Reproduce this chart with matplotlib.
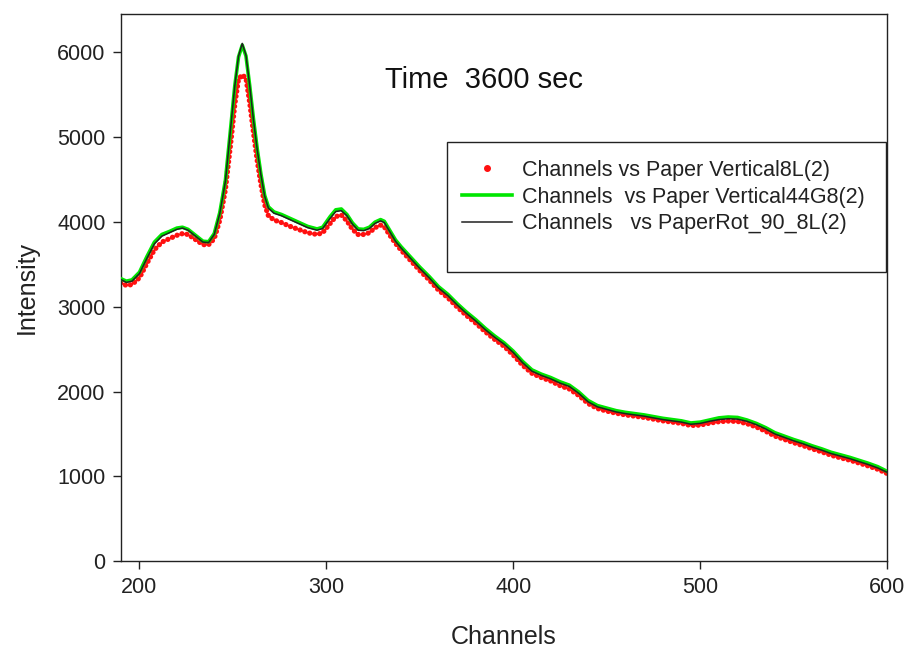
import matplotlib
matplotlib.use("Agg")
import matplotlib.pyplot as plt
from matplotlib.lines import Line2D
from matplotlib.patches import Rectangle

plt.rcParams["font.family"] = ["Liberation Sans", "DejaVu Sans"]

# Channel positions shared by the three spectra
channels = [
    190, 193, 196, 200, 204, 208, 212, 216, 220, 223, 226, 230, 234, 237,
    240, 243, 246, 249, 251, 253, 255, 257, 259, 261, 263, 265, 267, 269,
    272, 276, 280, 285, 290, 295, 298, 302, 305, 308, 311, 314, 317, 320,
    323, 326, 329, 331, 334, 337, 340, 345, 350, 355, 360, 365, 370, 375,
    380, 385, 390, 395, 400, 405, 410, 415, 420, 425, 430, 435, 440, 445,
    450, 455, 460, 465, 470, 475, 480, 485, 490, 495, 500, 505, 510, 515,
    520, 525, 530, 535, 540, 545, 550, 555, 560, 565, 570, 575, 580, 585,
    590, 595, 600,
]

# Paper Vertical8L(2)
vertical_8l = [
    3280, 3250, 3260, 3340, 3510, 3670, 3760, 3800, 3840, 3860, 3850, 3790,
    3730, 3730, 3800, 4020, 4380, 4960, 5380, 5680, 5730, 5690, 5400, 5050,
    4720, 4440, 4200, 4070, 4020, 3990, 3950, 3910, 3870, 3850, 3870, 3980,
    4060, 4080, 4010, 3910, 3850, 3850, 3870, 3930, 3960, 3940, 3840, 3745,
    3665, 3545, 3425, 3315, 3195, 3105, 2995, 2895, 2805, 2705, 2615, 2535,
    2430, 2310, 2215, 2165, 2125, 2070, 2030, 1955, 1860, 1800, 1770, 1745,
    1725, 1710, 1695, 1675, 1655, 1640, 1625, 1600, 1605, 1628, 1645, 1652,
    1648, 1622, 1583, 1533, 1475, 1437, 1398, 1363, 1325, 1290, 1250, 1220,
    1192, 1158, 1123, 1085, 1035,
]

# Paper Vertical44G8(2)
vertical_44g8 = [
    3330, 3300, 3315, 3405, 3590, 3760, 3850, 3885, 3925, 3935, 3910, 3840,
    3770, 3765, 3860, 4110, 4490, 5150, 5600, 5940, 6080, 5950, 5600, 5210,
    4860, 4560, 4310, 4175, 4115, 4085, 4045, 3995, 3945, 3915, 3935, 4060,
    4140, 4150, 4085, 3985, 3915, 3910, 3935, 3995, 4025, 4005, 3895, 3785,
    3705, 3585, 3465, 3355, 3235, 3145, 3035, 2935, 2845, 2745, 2655, 2575,
    2475, 2355, 2255, 2205, 2165, 2115, 2075, 1995, 1895, 1835, 1805, 1775,
    1755, 1740, 1725, 1705, 1685, 1670, 1655, 1630, 1640, 1665, 1690, 1700,
    1695, 1665, 1625, 1575, 1515, 1475, 1435, 1400, 1360, 1325, 1285, 1255,
    1225, 1190, 1155, 1115, 1060,
]

# PaperRot_90_8L(2)
rot_90_8l = [
    3320, 3285, 3300, 3390, 3570, 3740, 3830, 3870, 3910, 3925, 3900, 3830,
    3760, 3755, 3850, 4100, 4480, 5150, 5600, 5950, 6100, 5960, 5600, 5200,
    4850, 4550, 4300, 4160, 4100, 4070, 4030, 3980, 3930, 3900, 3920, 4040,
    4120, 4130, 4070, 3970, 3900, 3895, 3920, 3980, 4010, 3990, 3880, 3770,
    3690, 3570, 3450, 3340, 3220, 3130, 3020, 2920, 2830, 2730, 2640, 2560,
    2460, 2340, 2240, 2190, 2150, 2100, 2060, 1980, 1880, 1820, 1790, 1760,
    1740, 1725, 1710, 1690, 1670, 1655, 1640, 1615, 1625, 1650, 1670, 1680,
    1675, 1650, 1610, 1560, 1500, 1460, 1420, 1385, 1345, 1310, 1270, 1240,
    1210, 1175, 1140, 1100, 1050,
]

labels = [
    "Channels vs Paper Vertical8L(2)",
    "Channels  vs Paper Vertical44G8(2)",
    "Channels   vs PaperRot_90_8L(2)",
]
x_ticks = [200, 300, 400, 500, 600]
y_ticks = [0, 1000, 2000, 3000, 4000, 5000, 6000]

fig = plt.figure(figsize=(9.08, 6.52), dpi=100)
ax = fig.add_axes([0.133, 0.139, 0.844, 0.840])

# red series is drawn as tightly packed round dots
ax.plot(channels, vertical_8l, color="#ff1010", linewidth=3.8,
        linestyle=(0, (0.01, 0.95)), dash_capstyle="round", zorder=2)
ax.plot(channels, vertical_44g8, color="#00e600", linewidth=2.6, zorder=3)
ax.plot(channels, rot_90_8l, color="#202020", linewidth=1.1, zorder=4)

ax.set_xlim(190, 600)
ax.set_ylim(0, 6450)
ax.set_xticks(x_ticks)
ax.set_yticks(y_ticks)
ax.tick_params(direction="out", length=6, width=1, labelsize=15.5,
               colors="#222222", pad=5)
for spine in ax.spines.values():
    spine.set_linewidth(1.0)
    spine.set_color("#222222")

ax.set_xlabel("Channels", fontsize=18, labelpad=20, color="#222222")
ax.set_ylabel("Intensity", fontsize=18, labelpad=13, color="#222222")

ax.text(0.474, 0.879, "Time  3600 sec", transform=ax.transAxes,
        ha="center", va="center", fontsize=21, color="#111111")

# legend frame is taller than its entries
ax.add_patch(Rectangle((0.4256, 0.529), 0.5734, 0.237, transform=ax.transAxes,
                       facecolor="white", edgecolor="#222222", linewidth=1.0,
                       zorder=5))
handles = [
    Line2D([], [], color="#ff1010", marker="o", markersize=4, linestyle="none"),
    Line2D([], [], color="#00e600", linewidth=2.6),
    Line2D([], [], color="#202020", linewidth=1.1),
]
legend = ax.legend(handles, labels, loc="upper left",
                   bbox_to_anchor=(0.437, 0.745), frameon=False, fontsize=15.5,
                   handlelength=2.3, handletextpad=0.5, labelspacing=0.27,
                   borderaxespad=0.0, borderpad=0.3)
legend.set_zorder(6)
for text in legend.get_texts():
    text.set_color("#222222")

fig.savefig("out.png", dpi=100)
